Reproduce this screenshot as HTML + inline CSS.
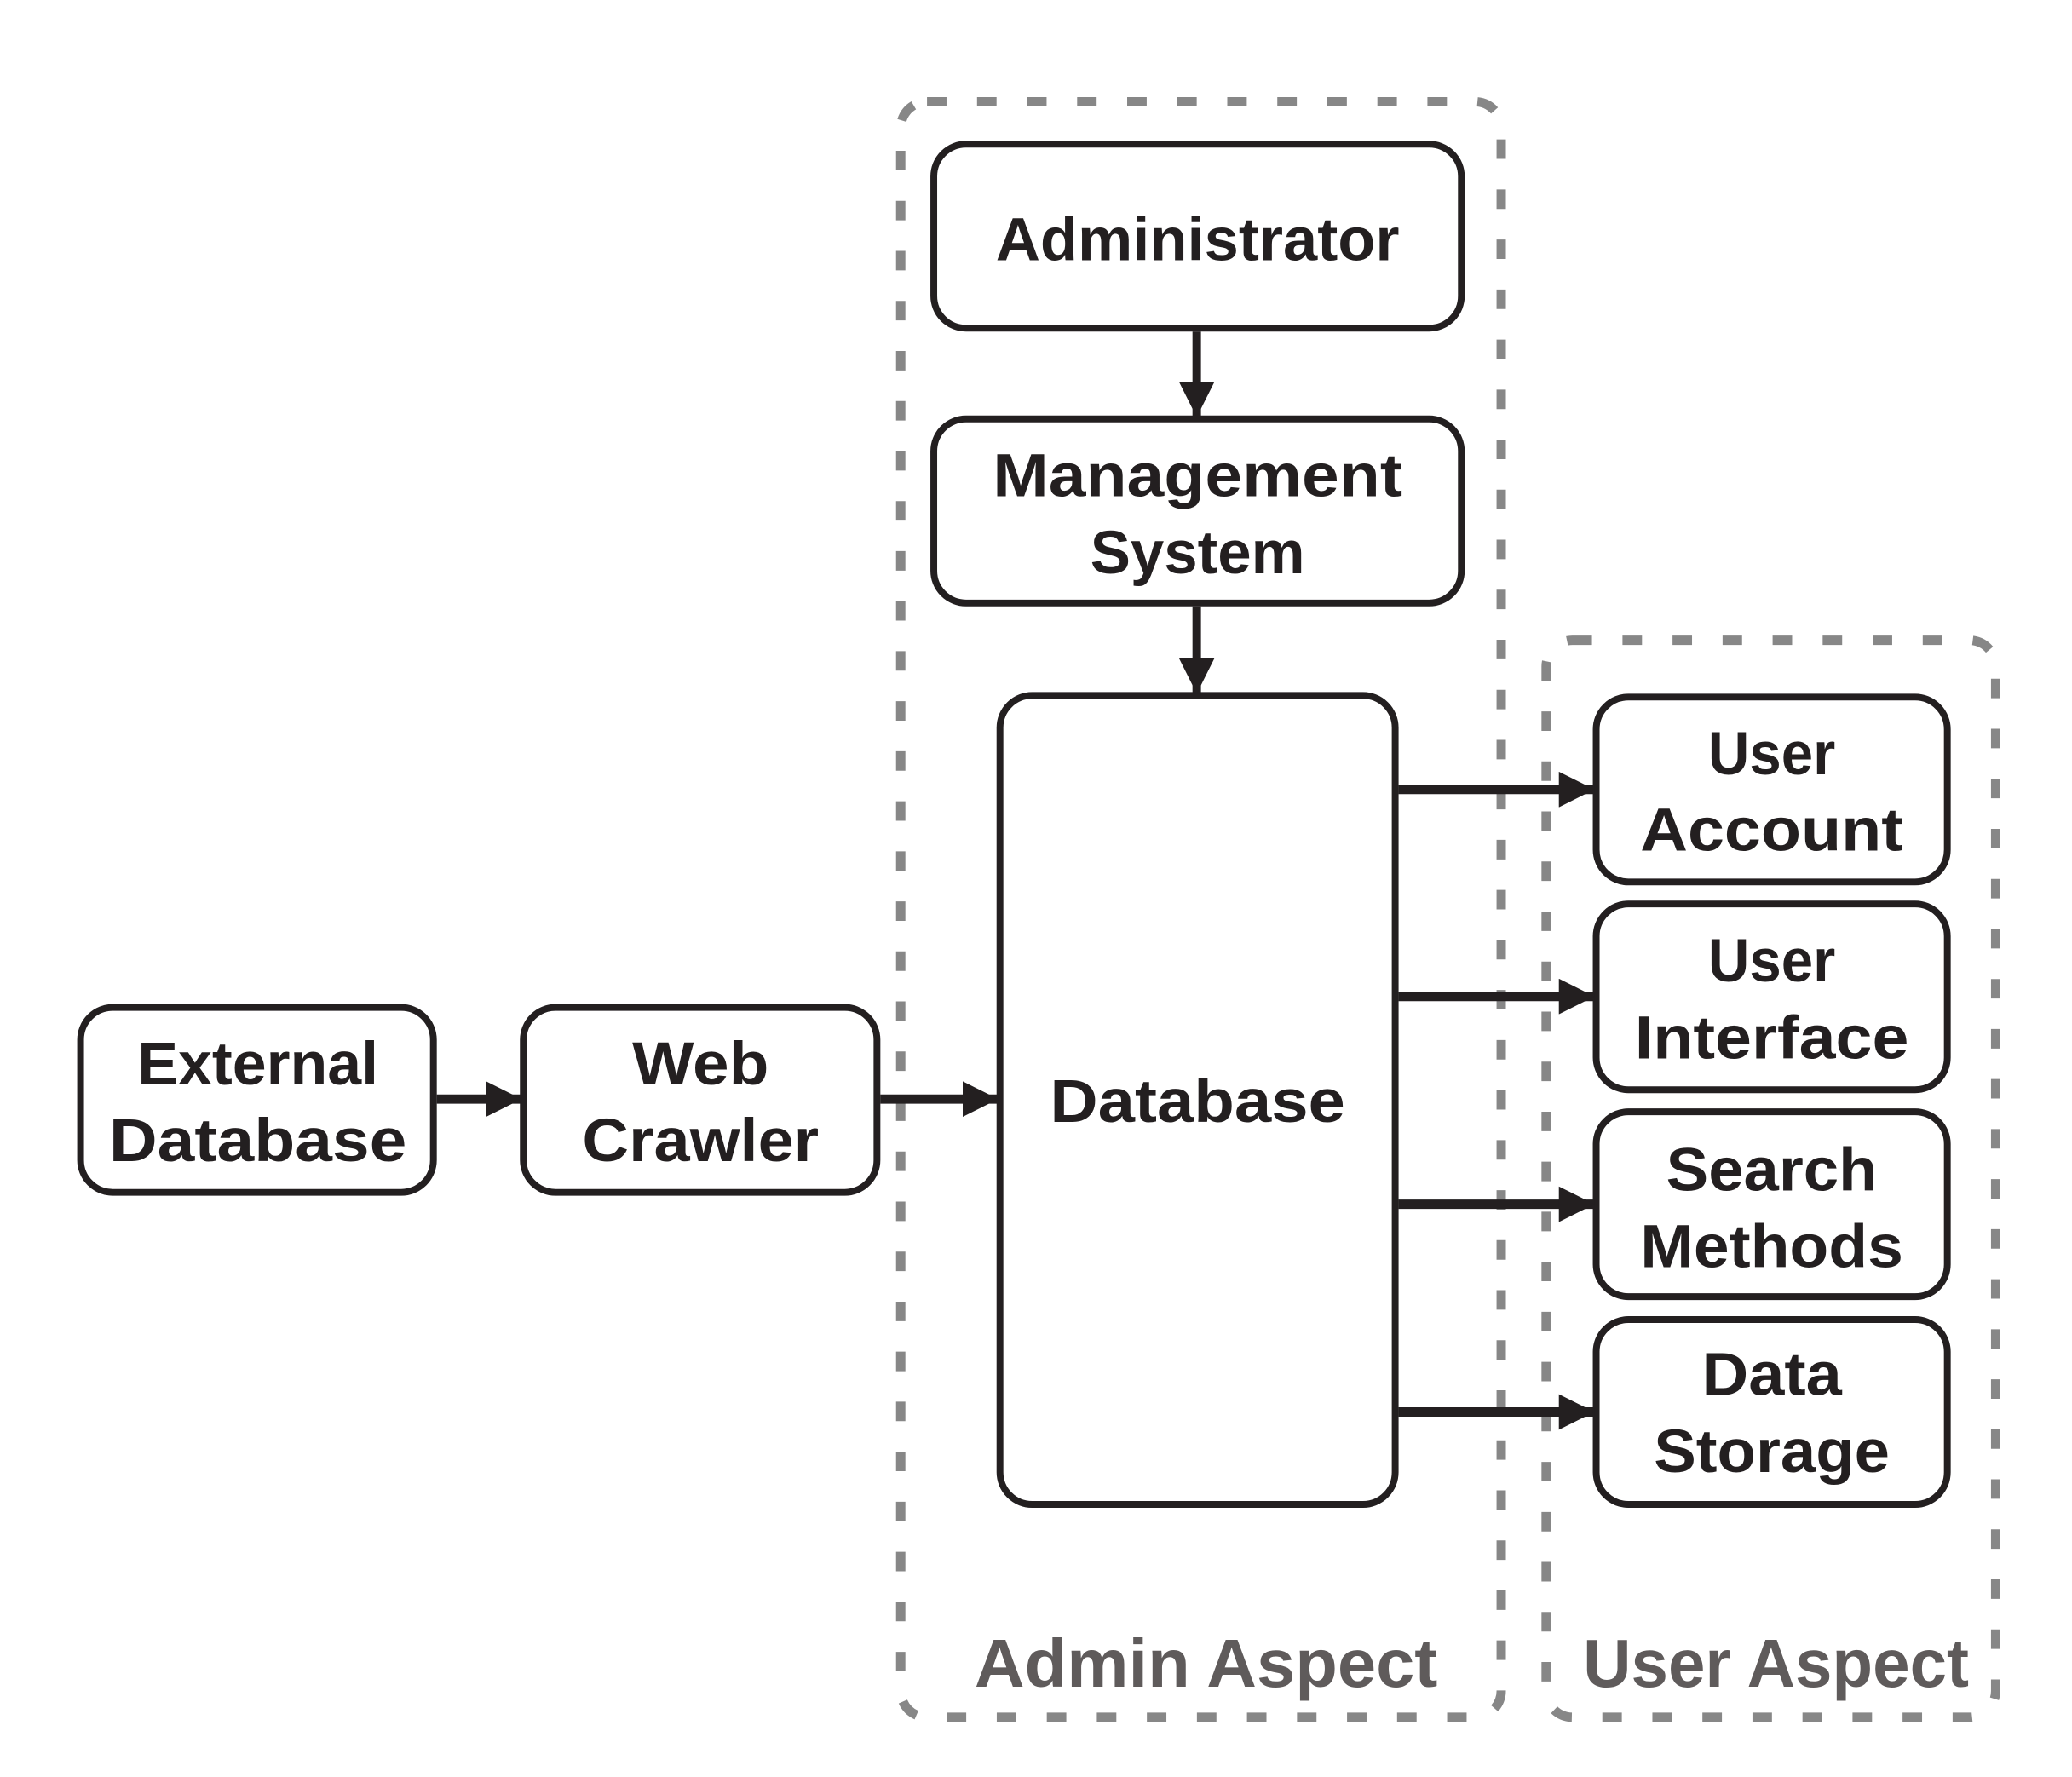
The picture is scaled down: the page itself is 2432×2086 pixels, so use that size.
<!DOCTYPE html>
<html><head><style>html,body{margin:0;padding:0;background:#fff}svg{display:block}</style></head>
<body>
<svg width="2432" height="2086" viewBox="0 0 2432 2086" xmlns="http://www.w3.org/2000/svg">
<defs>
<marker id="ah" markerUnits="userSpaceOnUse" markerWidth="44" markerHeight="42" refX="42" refY="21" orient="auto"><path d="M0,0 L42,21 L0,42 Z" fill="#231f20"/></marker>
</defs>
<g transform="scale(0.9955)">
<g fill="none" stroke="#878787" stroke-width="11" stroke-dasharray="23 36">
<rect x="1062" y="120" width="708" height="1905" rx="31"/>
<rect x="1823" y="755" width="530" height="1270" rx="31"/>
</g>
<g fill="#fff" stroke="#231f20" stroke-width="8">
<rect x="1101" y="170" width="622" height="217" rx="38"/>
<rect x="1101" y="494" width="622" height="217" rx="38"/>
<rect x="1179" y="820" width="466" height="954" rx="38"/>
<rect x="95" y="1188" width="416" height="218" rx="38"/>
<rect x="617" y="1188" width="417" height="218" rx="38"/>
<rect x="1882" y="822" width="414" height="218" rx="38"/>
<rect x="1882" y="1066" width="414" height="219" rx="38"/>
<rect x="1882" y="1311" width="414" height="218" rx="38"/>
<rect x="1882" y="1556" width="414" height="218" rx="38"/>
</g>
<g stroke="#231f20" fill="none" marker-end="url(#ah)">
<line x1="1411" y1="391" x2="1411" y2="492" stroke-width="10"/>
<line x1="1411" y1="715" x2="1411" y2="818" stroke-width="10"/>
<line x1="515" y1="1296" x2="615" y2="1296" stroke-width="11"/>
<line x1="1038" y1="1296" x2="1177" y2="1296" stroke-width="11"/>
<line x1="1649" y1="931" x2="1880" y2="931" stroke-width="11"/>
<line x1="1649" y1="1175" x2="1880" y2="1175" stroke-width="11"/>
<line x1="1649" y1="1420" x2="1880" y2="1420" stroke-width="11"/>
<line x1="1649" y1="1665" x2="1880" y2="1665" stroke-width="11"/>
</g>
<g font-family="Liberation Sans, sans-serif" font-weight="bold" font-size="72" fill="#231f20" text-anchor="middle">
<text x="1412" y="307" textLength="476" lengthAdjust="spacingAndGlyphs">Administrator</text>
<text x="1412" y="585" textLength="483" lengthAdjust="spacingAndGlyphs">Management</text>
<text x="1412" y="676" textLength="253" lengthAdjust="spacingAndGlyphs">System</text>
<text x="1412" y="1323" textLength="348" lengthAdjust="spacingAndGlyphs">Database</text>
<text x="304" y="1279" textLength="284" lengthAdjust="spacingAndGlyphs">External</text>
<text x="304" y="1369" textLength="351" lengthAdjust="spacingAndGlyphs">Database</text>
<text x="826" y="1279" textLength="161" lengthAdjust="spacingAndGlyphs">Web</text>
<text x="826" y="1369" textLength="279" lengthAdjust="spacingAndGlyphs">Crawler</text>
<text x="2089" y="913" textLength="150" lengthAdjust="spacingAndGlyphs">User</text>
<text x="2089" y="1003" textLength="310" lengthAdjust="spacingAndGlyphs">Account</text>
<text x="2089" y="1157" textLength="150" lengthAdjust="spacingAndGlyphs">User</text>
<text x="2089" y="1248" textLength="323" lengthAdjust="spacingAndGlyphs">Interface</text>
<text x="2089" y="1404" textLength="249" lengthAdjust="spacingAndGlyphs">Search</text>
<text x="2089" y="1494" textLength="310" lengthAdjust="spacingAndGlyphs">Methods</text>
<text x="2089" y="1645" textLength="165" lengthAdjust="spacingAndGlyphs">Data</text>
<text x="2089" y="1736" textLength="278" lengthAdjust="spacingAndGlyphs">Storage</text>
</g>
<g font-family="Liberation Sans, sans-serif" font-weight="bold" font-size="80" fill="#5f5b5b" text-anchor="middle">
<text x="1422" y="1989" textLength="546" lengthAdjust="spacingAndGlyphs">Admin Aspect</text>
<text x="2094" y="1989" textLength="455" lengthAdjust="spacingAndGlyphs">User Aspect</text>
</g>
</g>
</svg>
</body></html>
